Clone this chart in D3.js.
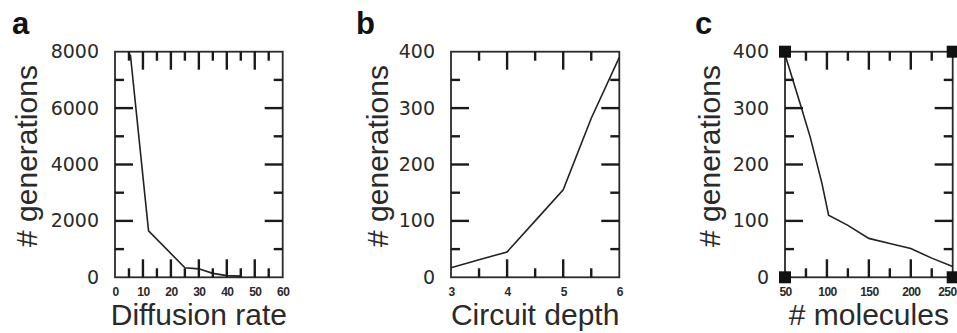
<!DOCTYPE html>
<html>
<head>
    <title>Generations plots</title>
    <style>
        body { margin: 0; background: #fff; }
        svg { display: block; background: #fff; }
        .box { fill: none; stroke: #2a2a2a; stroke-width: 1.8px; }
        .ylab text { font-family: "DejaVu Sans", sans-serif; font-size: 19px; fill: #2a2a2a; }
        .xlab text { font-family: "Liberation Sans", Arial, sans-serif; font-size: 12px; font-weight: bold; fill: #2a2a2a; letter-spacing: -0.6px; }
        .title { font-family: "Liberation Sans", Arial, sans-serif; font-size: 30px; fill: #2a2a2a; }
        .letter { font-family: "Liberation Sans", Arial, sans-serif; font-size: 31px; font-weight: bold; fill: #111; }
        .line { fill: none; stroke: #222; stroke-width: 1.6px; }
    </style>
    <script src="https://d3js.org/d3.v7.min.js"></script>
</head>
<body>
    <svg width="957" height="333"></svg>
    <script>
        // panel a
        const diffusionRate = [5.5, 12, 25, 30, 35, 40, 45];
        const diffusionGens = [7900, 1650, 340, 300, 140, 60, 40];
        const diffusionXTicks = [0, 10, 20, 30, 40, 50, 60];
        const diffusionYTicks = [0, 2000, 4000, 6000, 8000];

        // panel b
        const circuitDepth = [3, 3.5, 4, 4.5, 5, 5.5, 6];
        const depthGens = [17, 31, 45, 100, 155, 282, 390];
        const depthXTicks = [3, 4, 5, 6];
        const depthYTicks = [0, 100, 200, 300, 400];

        // panel c
        const molecules = [50, 68, 80, 94, 102, 125, 150, 175, 200, 225, 250];
        const moleculeGens = [395, 308, 249, 167, 110, 92, 69, 60, 51, 34, 19];
        const moleculeXTicks = [50, 100, 150, 200, 250];
        const moleculeYTicks = [0, 100, 200, 300, 400];

        const svg = d3.select("svg");
        const W = +svg.attr("width");
        const plotTop = 51.7, plotBottom = 277.3;
        const majorLen = 18, minorLen = 9;

        const panels = [
            { letter: "a", left: 115, right: 282.7, xs: diffusionRate, ys: diffusionGens,
              xDomain: [0, 60], yDomain: [0, 8000], xTicks: diffusionXTicks, yTicks: diffusionYTicks,
              xStep: 5, yStep: 1000, xTitle: "Diffusion rate", letterX: 12, titleX: 37, squares: false },
            { letter: "b", left: 451, right: 619.3, xs: circuitDepth, ys: depthGens,
              xDomain: [3, 6], yDomain: [0, 400], xTicks: depthXTicks, yTicks: depthYTicks,
              xStep: 0.5, yStep: 50, xTitle: "Circuit depth", letterX: 356, titleX: 388, squares: false },
            { letter: "c", left: 785, right: 952.7, xs: molecules, ys: moleculeGens,
              xDomain: [50, 250], yDomain: [0, 400], xTicks: moleculeXTicks, yTicks: moleculeYTicks,
              xStep: 25, yStep: 50, xTitle: "# molecules", letterX: 695, titleX: 720, squares: true }
        ];

        // every step inside the domain, flagged major if it is a labelled tick
        function tickList(domain, step, majors) {
            const out = [];
            const n = Math.round((domain[1] - domain[0]) / step);
            for (let i = 1; i < n; i++) {
                const v = domain[0] + i * step;
                out.push({ v: v, major: majors.some(m => Math.abs(m - v) < step / 10) });
            }
            return out;
        }

        const tickSegs = [];

        panels.forEach(p => {
            const x = d3.scaleLinear().domain(p.xDomain).range([p.left, p.right]);
            const y = d3.scaleLinear().domain(p.yDomain).range([plotBottom, plotTop]);
            const g = svg.append("g");

            g.append("rect").attr("class", "box").attr("fill", "none")
                .attr("x", p.left).attr("y", plotTop)
                .attr("width", p.right - p.left).attr("height", plotBottom - plotTop);

            const len = d => d.major ? majorLen : minorLen;
            tickList(p.xDomain, p.xStep, p.xTicks).forEach(d => {
                tickSegs.push([x(d.v), plotBottom, x(d.v), plotBottom - len(d)]);
                tickSegs.push([x(d.v), plotTop, x(d.v), plotTop + len(d)]);
            });
            tickList(p.yDomain, p.yStep, p.yTicks).forEach(d => {
                tickSegs.push([p.left, y(d.v), p.left + len(d), y(d.v)]);
                tickSegs.push([p.right, y(d.v), p.right - len(d), y(d.v)]);
            });

            // tick labels
            g.append("g").attr("class", "ylab")
                .attr("transform", `translate(${p.left},0)`)
                .call(d3.axisLeft(y).tickValues(p.yTicks).tickSize(0).tickPadding(16).tickFormat(d3.format("d")))
                .call(s => s.select(".domain").remove());
            g.append("g").attr("class", "xlab")
                .attr("transform", `translate(0,${plotBottom})`)
                .call(d3.axisBottom(x).tickValues(p.xTicks).tickSize(0).tickPadding(10).tickFormat(d3.format("d")))
                .call(s => s.select(".domain").remove())
                .call(s => s.selectAll(".tick text")
                    .filter(d => x(d) + 12 > W)
                    .attr("text-anchor", "end").attr("x", d => W - 1 - x(d)));

            const line = d3.line().x(d => x(d[0])).y(d => y(d[1]));
            g.append("path").attr("class", "line")
                .attr("d", line(d3.zip(p.xs, p.ys)));

            if (p.squares) {
                const corners = [[p.xDomain[0], p.yDomain[1]], [p.xDomain[1], p.yDomain[1]],
                                 [p.xDomain[0], p.yDomain[0]], [p.xDomain[1], p.yDomain[0]]];
                g.selectAll(".sq").data(corners).enter().append("rect")
                    .attr("x", d => x(d[0]) - 6).attr("y", d => y(d[1]) - 6)
                    .attr("width", 12).attr("height", 12).attr("fill", "#111");
            }

            g.append("text").attr("class", "title")
                .attr("x", (p.left + p.right) / 2).attr("y", 325)
                .attr("text-anchor", "middle").text(p.xTitle);
            g.append("text").attr("class", "title")
                .attr("transform", `translate(${p.titleX},156) rotate(-90)`)
                .attr("text-anchor", "middle").text("# generations");
            g.append("text").attr("class", "letter")
                .attr("x", p.letterX).attr("y", 34).text(p.letter);
        });

        // inward ticks on all four sides of every panel, drawn last
        svg.append("g").selectAll("line")
            .data(tickSegs)
            .enter()
            .append("line")
            .attr("x1", d => d[0]).attr("y1", d => d[1])
            .attr("x2", d => d[2]).attr("y2", d => d[3])
            .attr("stroke", "#1a1a1a")
            .attr("stroke-width", 2.4);
    </script>
</body>
</html>
